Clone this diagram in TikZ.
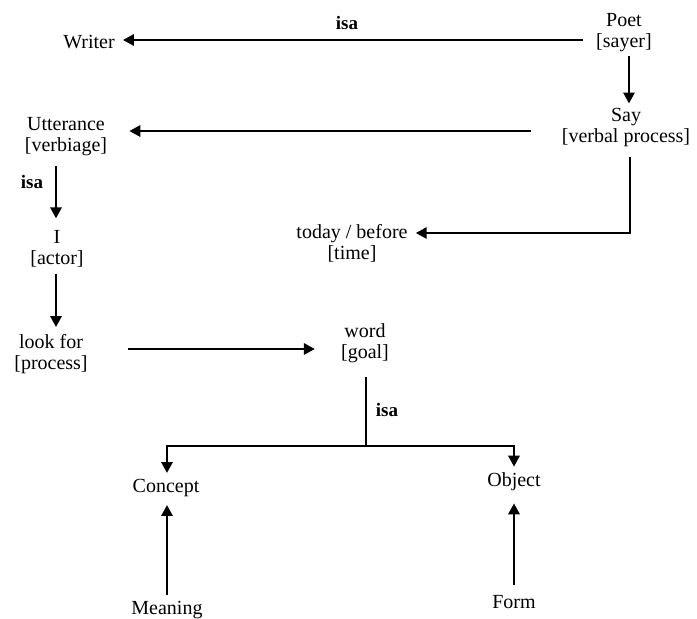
\documentclass[tikz,border=0pt]{standalone}
\usepackage{fontspec}
\setmainfont{Liberation Serif}
\usetikzlibrary{arrows.meta,calc}
\begin{document}
\begin{tikzpicture}[x=1pt,y=-1pt,
  lbl/.style={inner sep=0pt, align=center, font=\fontsize{20}{21}\selectfont},
  isalbl/.style={inner sep=0pt, font=\fontsize{19}{21}\selectfont\bfseries},
  arr/.style={line width=2.8pt, -{Triangle[length=11pt,width=11pt]}},
  ln/.style={line width=2.8pt}]
\useasboundingbox (0,0) rectangle (697,619);

% nodes
\node[isalbl] (isaA) at (347,23) {isa};
\node[lbl] (writer) at (89,42) {Writer};
\node[lbl] (poet) at (624,33) {Poet\\{[sayer]}};
\node[lbl] (say) at (626,128) {Say\\{[verbal process]}};
\node[lbl] (utt) at (66,137) {Utterance\\{[verbiage]}};
\node[isalbl] (isaB) at (32,182) {isa};
\node[lbl] (actor) at (57,249) {I\\{[actor]}};
\node[lbl] (today) at (352,243) {today / before\\{[time]}};
\node[lbl] (look) at (51,354) {look for\\{[process]}};
\node[lbl] (word) at (365,343) {word\\{[goal]}};
\node[isalbl] (isaC) at (387,410) {isa};
\node[lbl] (concept) at (166,488) {Concept};
\node[lbl] (object) at (514,482) {Object};
\node[lbl] (meaning) at (167,610) {Meaning};
\node[lbl] (form) at (514,602) {Form};
\coordinate (br) at (366,446);

% connectors
\draw[arr] ($(poet.west |- writer.east)+(-13,-2)$) -- ($(writer.east)+(8,-2)$);
\draw[arr] ($(poet.south)+(5,4)$) -- ($(poet.south |- say.north)+(5,-5)$);
\draw[arr] ($(say.west)+(-31,3)$) -- ($(utt.east |- say.west)+(22,3)$);
\draw[arr] ($(say.south)+(4,10)$) |- ($(today.east)+(8,-10)$);
\draw[arr] ($(utt.south)+(-10,10)$) -- ($(utt.south |- actor.north)+(-10,-12)$);
\draw[arr] ($(actor.south)+(-1,6)$) -- ($(actor.south |- look.north)+(-1,-7)$);
\draw[arr] ($(look.east)+(40,-5)$) -- ($(word.west |- look.east)+(-26,-5)$);
\draw[ln] ($(word.south)+(1,14)$) -- (br);
\draw[arr] (br) -| ($(concept.north)+(1,-6)$);
\draw[arr] (br) -| ($(object.north)+(0,-6)$);
\draw[arr] ($(meaning.north)+(0,-6)$) -- ($(meaning.north |- concept.south)+(0,8)$);
\draw[arr] ($(form.north)+(0,-10)$) -- ($(form.north |- object.south)+(0,12)$);
\end{tikzpicture}
\end{document}
